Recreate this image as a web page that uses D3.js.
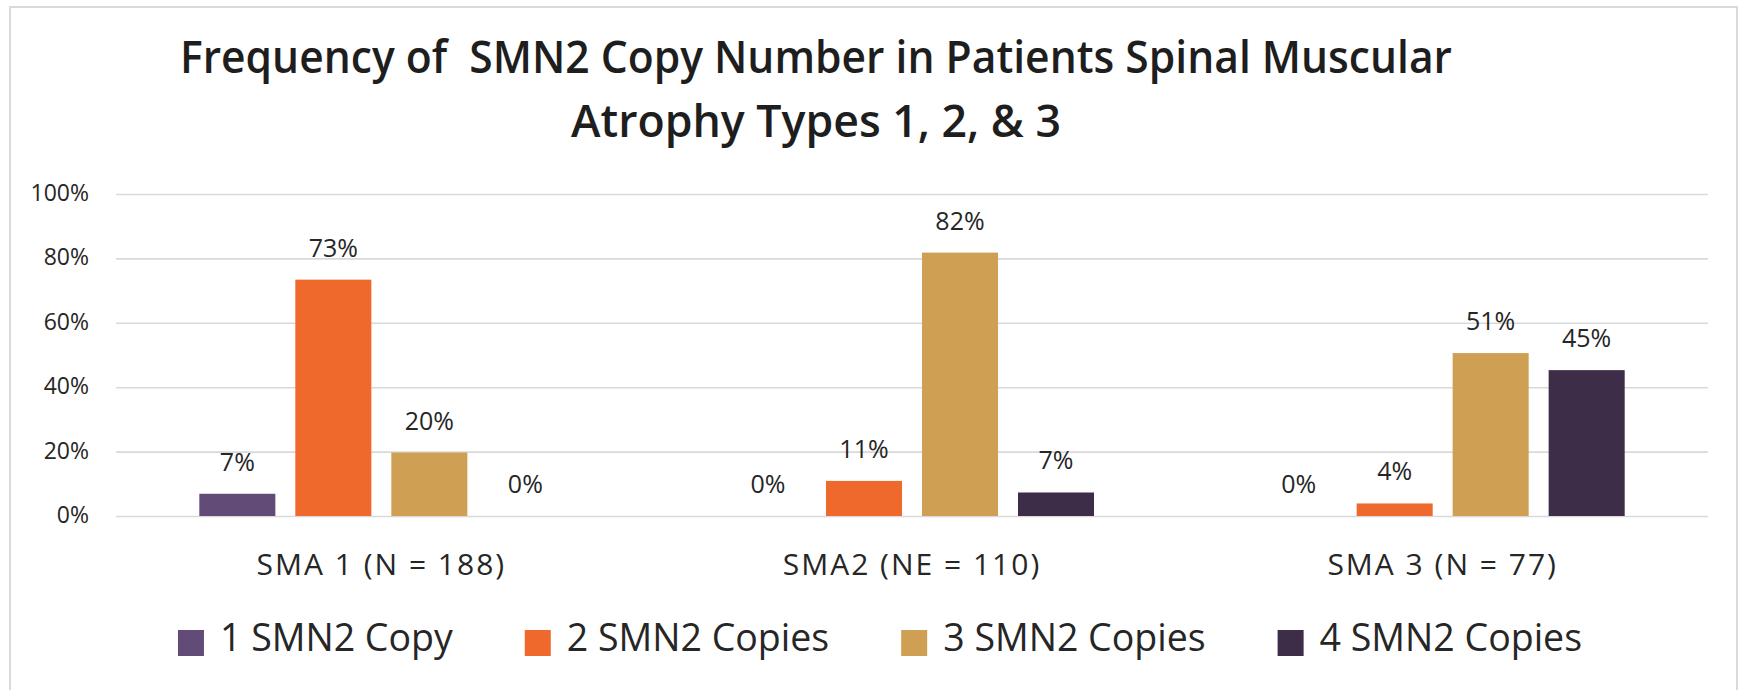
<!DOCTYPE html>
<html>
<head>
<meta charset="utf-8">
<script src="https://cdn.jsdelivr.net/npm/d3@7"></script>
<style>
  body { margin: 0; background: #fff; }
  svg text { font-family: "Open Sans", sans-serif; fill: #262626; }
</style>
</head>
<body>
<div id="chart"></div>
<script>
// values
const categories = ["SMA 1 (N = 188)", "SMA2 (NE = 110)", "SMA 3 (N = 77)"];
const seriesNames = ["1 SMN2 Copy", "2 SMN2 Copies", "3 SMN2 Copies", "4 SMN2 Copies"];
const copy1 = [0.069, 0, 0];
const copy2 = [0.734, 0.109, 0.039];
const copy3 = [0.197, 0.818, 0.506];
const copy4 = [0, 0.073, 0.453];
const yTicks = [0, 0.2, 0.4, 0.6, 0.8, 1];
const titleLines = ["Frequency of  SMN2 Copy Number in Patients Spinal Muscular", "Atrophy Types 1, 2, & 3"];
const colors = ["#634b78", "#f0692c", "#cf9f53", "#3d2d48"];

const seriesValues = [copy1, copy2, copy3, copy4];
const data = categories.map((c, i) => ({
  category: c,
  values: seriesNames.map((s, j) => ({ key: s, value: seriesValues[j][i] }))
}));

const width = 1738, height = 690;
const margins = { top: 194, bottom: 174, left: 116, right: 30 };

const svg = d3.select("#chart").append("svg")
  .attr("width", width)
  .attr("height", height);

// chart frame
svg.append("rect")
  .attr("x", 10).attr("y", 7)
  .attr("width", 1727).attr("height", 700)
  .attr("fill", "none")
  .attr("stroke", "#d9d9d9")
  .attr("stroke-width", 2);

// title
svg.append("g").attr("class", "title")
  .selectAll("text")
  .data(titleLines)
  .join("text")
  .attr("x", 816)
  .attr("y", (d, i) => 73 + i * 64)
  .attr("text-anchor", "middle")
  .attr("font-size", 45)
  .attr("font-weight", 600)
  .attr("textLength", (d, i) => i === 0 ? 1272 : 490)
  .attr("lengthAdjust", "spacingAndGlyphs")
  .style("white-space", "pre")
  .style("fill", "#1e1e1e")
  .text(d => d);

const x0 = d3.scaleBand()
  .domain(categories)
  .range([margins.left, width - margins.right])
  .paddingInner(0.314)
  .paddingOuter(0.157);

const x1 = d3.scaleBand()
  .domain(seriesNames)
  .range([0, x0.bandwidth()])
  .paddingInner(0.208);

const y = d3.scaleLinear()
  .domain([0, 1])
  .range([height - margins.bottom, margins.top]);

const color = d3.scaleOrdinal().domain(seriesNames).range(colors);

// y axis + gridlines
const yAxis = d3.axisLeft(y)
  .tickValues(yTicks)
  .tickFormat(d3.format(".0%"))
  .tickSize(-(width - margins.left - margins.right))
  .tickPadding(27);

svg.append("g")
  .attr("class", "axis y-axis")
  .attr("transform", `translate(${margins.left},0)`)
  .call(yAxis)
  .call(g => g.select(".domain").remove())
  .call(g => g.selectAll(".tick line").attr("stroke", "#d9d9d9").attr("stroke-width", 1.6))
  .call(g => g.selectAll(".tick text")
    .attr("font-size", 23)
    .attr("dy", "0.28em")
    .style("fill", "#262626"));

// bars
const groups = svg.append("g").attr("class", "bars-container")
  .selectAll("g.group")
  .data(data)
  .join("g")
  .attr("class", "group")
  .attr("transform", d => `translate(${x0(d.category)},0)`);

groups.selectAll("rect")
  .data(d => d.values)
  .join("rect")
  .attr("x", d => x1(d.key))
  .attr("y", d => y(d.value))
  .attr("width", x1.bandwidth())
  .attr("height", d => y(0) - y(d.value))
  .attr("fill", d => color(d.key));

groups.selectAll("text.value")
  .data(d => d.values)
  .join("text")
  .attr("class", "value")
  .attr("x", d => x1(d.key) + x1.bandwidth() / 2)
  .attr("y", d => y(d.value) - 23)
  .attr("text-anchor", "middle")
  .attr("font-size", 25)
  .text(d => d3.format(".0%")(d.value));

// category labels
svg.append("g").attr("class", "x-labels")
  .selectAll("text")
  .data(categories)
  .join("text")
  .attr("x", d => x0(d) + x0.bandwidth() / 2)
  .attr("y", 575)
  .attr("text-anchor", "middle")
  .attr("font-size", 30)
  .attr("letter-spacing", 2)
  .text(d => d);

// legend
const legend = svg.append("g").attr("class", "legend");
const items = legend.selectAll("g")
  .data(seriesNames)
  .join("g");

items.append("rect")
  .attr("width", 26).attr("height", 26)
  .attr("y", 630)
  .attr("fill", d => color(d));

items.append("text")
  .attr("x", 42)
  .attr("y", 651)
  .attr("font-size", 37.5)
  .text(d => d);

const gap = 72;
const widths = [];
items.each(function () {
  widths.push(42 + this.querySelector("text").getComputedTextLength());
});
const total = d3.sum(widths) + gap * (widths.length - 1);
let cursor = 880 - total / 2;
items.attr("transform", (d, i) => {
  const t = `translate(${cursor},0)`;
  cursor += widths[i] + gap;
  return t;
});
</script>
</body>
</html>
